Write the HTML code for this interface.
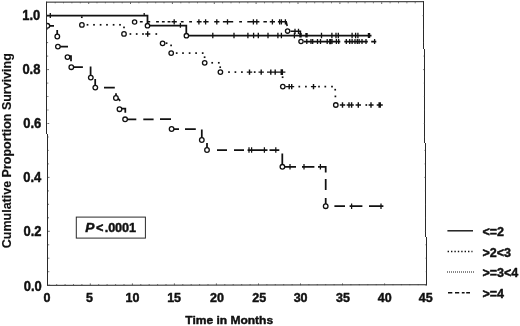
<!DOCTYPE html>
<html><head><meta charset="utf-8"><title>Cumulative Proportion Surviving</title>
<style>html,body{margin:0;padding:0;background:#fff}body{width:520px;height:326px;overflow:hidden}</style></head>
<body>
<svg width="520" height="326" viewBox="0 0 520 326" style="display:block">
<rect x="0" y="0" width="520" height="326" fill="#fff"/>
<clipPath id="pc"><polygon points="46.8,2.2 423.5,1.7 426.5,284.8 48.3,285.4"/></clipPath>
<path d="M46,2.15L424,1.7M47.3,285.35L427,284.75" fill="none" stroke="#222" stroke-width="1"/>
<path d="M46.5,1.7V134M47.5,134V285.8M423.5,1.2V49M424.5,49V143M425.5,143V237M426.5,237V285.2" fill="none" stroke="#2a2a2a" stroke-width="1"/>
<path d="M56.7,285.2v-1.1M55.2,2.2v1.1M65.1,285.2v-1.1M63.5,2.2v1.1M73.5,285.2v-1.1M71.9,2.2v1.1M81.9,285.2v-1.1M80.3,2.2v1.1M90.3,285.2v-1.8M88.7,2.2v1.8M98.7,285.2v-1.1M97.0,2.2v1.1M107.1,285.2v-1.1M105.4,2.2v1.1M115.6,285.2v-1.1M113.8,2.2v1.1M124.0,285.2v-1.1M122.2,2.2v1.1M132.4,285.2v-1.8M130.5,2.2v1.8M140.8,285.2v-1.1M138.9,2.2v1.1M149.2,285.2v-1.1M147.3,2.2v1.1M157.6,285.2v-1.1M155.7,2.2v1.1M166.0,285.2v-1.1M164.0,2.2v1.1M174.4,285.2v-1.8M172.4,2.2v1.8M182.8,285.2v-1.1M180.8,2.2v1.1M191.2,285.2v-1.1M189.1,2.2v1.1M199.6,285.2v-1.1M197.5,2.2v1.1M208.0,285.2v-1.1M205.9,2.2v1.1M216.4,285.2v-1.8M214.3,2.2v1.8M224.8,285.2v-1.1M222.6,2.2v1.1M233.2,285.2v-1.1M231.0,2.2v1.1M241.7,285.2v-1.1M239.4,2.2v1.1M250.1,285.2v-1.1M247.8,2.2v1.1M258.5,285.2v-1.8M256.1,2.2v1.8M266.9,285.2v-1.1M264.5,2.2v1.1M275.3,285.2v-1.1M272.9,2.2v1.1M283.7,285.2v-1.1M281.3,2.2v1.1M292.1,285.2v-1.1M289.6,2.2v1.1M300.5,285.2v-1.8M298.0,2.2v1.8M308.9,285.2v-1.1M306.4,2.2v1.1M317.3,285.2v-1.1M314.7,2.2v1.1M325.7,285.2v-1.1M323.1,2.2v1.1M334.1,285.2v-1.1M331.5,2.2v1.1M342.5,285.2v-1.8M339.9,2.2v1.8M350.9,285.2v-1.1M348.2,2.2v1.1M359.3,285.2v-1.1M356.6,2.2v1.1M367.8,285.2v-1.1M365.0,2.2v1.1M376.2,285.2v-1.1M373.4,2.2v1.1M384.6,285.2v-1.8M381.7,2.2v1.8M393.0,285.2v-1.1M390.1,2.2v1.1M401.4,285.2v-1.1M398.5,2.2v1.1M409.8,285.2v-1.1M406.9,2.2v1.1M418.2,285.2v-1.1M415.2,2.2v1.1M48.3,285.2h1.8M426.6,285.2h-1.1M48.2,271.7h1.1M426.5,271.7h-0.7M48.2,258.2h1.1M426.3,258.2h-0.7M48.1,244.8h1.1M426.2,244.8h-0.7M48.0,231.3h1.8M426.0,231.3h-1.1M47.9,217.8h1.1M425.9,217.8h-0.7M47.9,204.3h1.1M425.7,204.3h-0.7M47.8,190.9h1.1M425.6,190.9h-0.7M47.7,177.4h1.8M425.5,177.4h-1.1M47.7,163.9h1.1M425.3,163.9h-0.7M47.6,150.4h1.1M425.2,150.4h-0.7M47.5,137.0h1.1M425.0,137.0h-0.7M47.4,123.5h1.8M424.9,123.5h-1.1M47.4,110.0h1.1M424.7,110.0h-0.7M47.3,96.5h1.1M424.6,96.5h-0.7M47.2,83.1h1.1M424.5,83.1h-0.7M47.2,69.6h1.8M424.3,69.6h-1.1M47.1,56.1h1.1M424.2,56.1h-0.7M47.0,42.6h1.1M424.0,42.6h-0.7M46.9,29.2h1.1M423.9,29.2h-0.7M46.9,15.7h1.8M423.7,15.7h-1.1" stroke="#444" stroke-width="0.8" fill="none"/>
<g fill="#111"><rect x="80.95" y="16.35" width="1.7" height="1.7"/><rect x="86.65" y="23.95" width="1.7" height="1.7"/><rect x="93.15" y="23.95" width="1.7" height="1.7"/><rect x="99.75" y="23.95" width="1.7" height="1.7"/><rect x="106.15" y="23.95" width="1.7" height="1.7"/><rect x="112.75" y="23.95" width="1.7" height="1.7"/><rect x="119.15" y="23.95" width="1.7" height="1.7"/><rect x="123.15" y="26.55" width="1.7" height="1.7"/><rect x="129.55" y="33.15" width="1.7" height="1.7"/><rect x="135.85" y="33.15" width="1.7" height="1.7"/><rect x="142.15" y="33.15" width="1.7" height="1.7"/><rect x="155.45" y="33.15" width="1.7" height="1.7"/><rect x="165.75" y="42.35" width="1.7" height="1.7"/><rect x="170.25" y="44.55" width="1.7" height="1.7"/><rect x="175.85" y="52.25" width="1.7" height="1.7"/><rect x="182.15" y="52.25" width="1.7" height="1.7"/><rect x="188.75" y="52.25" width="1.7" height="1.7"/><rect x="195.25" y="52.25" width="1.7" height="1.7"/><rect x="201.85" y="52.25" width="1.7" height="1.7"/><rect x="203.75" y="56.35" width="1.7" height="1.7"/><rect x="211.35" y="61.95" width="1.7" height="1.7"/><rect x="217.95" y="61.95" width="1.7" height="1.7"/><rect x="219.35" y="66.35" width="1.7" height="1.7"/><rect x="228.15" y="71.25" width="1.7" height="1.7"/><rect x="234.55" y="71.25" width="1.7" height="1.7"/><rect x="241.05" y="71.25" width="1.7" height="1.7"/><rect x="253.85" y="71.25" width="1.7" height="1.7"/><rect x="281.75" y="76.35" width="1.7" height="1.7"/><rect x="298.45" y="85.75" width="1.7" height="1.7"/><rect x="305.05" y="85.75" width="1.7" height="1.7"/><rect x="318.15" y="85.75" width="1.7" height="1.7"/><rect x="324.45" y="85.75" width="1.7" height="1.7"/><rect x="331.15" y="85.75" width="1.7" height="1.7"/><rect x="334.35" y="88.85" width="1.7" height="1.7"/><rect x="334.55" y="95.55" width="1.7" height="1.7"/><rect x="365.45" y="104.15" width="1.7" height="1.7"/></g>
<path d="M147.7,31.3V36.7M145.2,34H150.3M249.5,69.5V74.69999999999999M261.2,69.5V74.69999999999999M270.8,69.5V74.69999999999999M275.2,69.5V74.69999999999999M246.8,72.1H252.2M258.5,72.1H263.9M267,72.1H285.4M289.2,83.89999999999999V89.3M291.7,83.89999999999999V89.3M285.5,86.6H294.2M313.5,83.89999999999999V89.3M310.9,86.6H316.1M342.5,102.3V107.7M349,102.3V107.7M351.6,102.3V107.7M358.3,102.3V107.7M371,102.3V107.7M339.8,105H345.2M346.7,105H353.8M355.6,105H361M368.6,105H373.6M376.7,105H382.8" stroke="#111" stroke-width="1.4" fill="none"/>
<path d="M281.8,69.19999999999999V75.0M379.7,102.2V107.8" stroke="#111" stroke-width="2.5" fill="none"/>
<circle cx="81.9" cy="24.9" r="2.25" fill="#fff" stroke="#111" stroke-width="1.3"/>
<circle cx="124" cy="33.9" r="2.25" fill="#fff" stroke="#111" stroke-width="1.3"/>
<circle cx="162.6" cy="43.3" r="2.25" fill="#fff" stroke="#111" stroke-width="1.3"/>
<circle cx="171.2" cy="53.1" r="2.25" fill="#fff" stroke="#111" stroke-width="1.3"/>
<circle cx="204.7" cy="62.8" r="2.25" fill="#fff" stroke="#111" stroke-width="1.3"/>
<circle cx="220.4" cy="72.1" r="2.25" fill="#fff" stroke="#111" stroke-width="1.3"/>
<circle cx="282.8" cy="86.6" r="2.25" fill="#fff" stroke="#111" stroke-width="1.3"/>
<circle cx="335.8" cy="105" r="2.25" fill="#fff" stroke="#111" stroke-width="1.3"/>
<path d="M139.9,21.8h2.8M147.4,21.8h2.8M156.1,21.8h2.8M161.9,21.8h2.8M167.6,21.8h2.8M180.8,21.8h2.8M189.2,21.8h2.8M239.2,21.8h2.8M263.4,21.8H266.9M171.6,21.8H176.8M196.8,21.8H201.6M203.3,21.8H208.6M214.2,21.8H219.4M222.9,21.8H233.2M247.3,21.8H259.4M269.8,21.8H275M277.9,21.8H286.2L287.2,26M290.5,31.3H300.4V35M304,41.6H340.3M344.3,41.6H367.8M371.2,41.6H376.3" stroke="#111" stroke-width="1.6" fill="none"/>
<path d="M174.2,19.150000000000002V24.45M198.9,19.150000000000002V24.45M205.6,19.150000000000002V24.45M216.8,19.150000000000002V24.45M227.5,19.150000000000002V24.45M253.4,19.150000000000002V24.45M256.8,19.150000000000002V24.45M272.4,19.150000000000002V24.45M279.6,19.150000000000002V24.45M281.4,19.150000000000002V24.45M285.4,19.150000000000002V24.45M295,28.7V33.9M298.5,28.7V33.9M306.8,39.1V44.1M311,39.1V44.1M312.7,39.1V44.1M317.5,39.1V44.1M320.5,39.1V44.1M327.2,39.1V44.1M332,39.1V44.1M336.4,39.1V44.1M338.7,39.1V44.1M346.3,39.1V44.1M349.7,39.1V44.1M352.1,39.1V44.1M355,39.1V44.1M357.3,39.1V44.1M359.1,39.1V44.1M362,39.1V44.1M366,39.1V44.1M374.6,39.1V44.1" stroke="#111" stroke-width="1.3" fill="none"/>
<path d="M330.3,39.0V44.2" stroke="#111" stroke-width="2.4" fill="none"/>
<circle cx="134.6" cy="22" r="2.15" fill="#fff" stroke="#111" stroke-width="1.3"/>
<circle cx="287.6" cy="31.1" r="2.15" fill="#fff" stroke="#111" stroke-width="1.3"/>
<circle cx="301" cy="41.5" r="2.15" fill="#fff" stroke="#111" stroke-width="1.3"/>
<path d="M47,15.5H147.5V25.5H186.3V35.5H371.5" stroke="#111" stroke-width="1.75" fill="none" stroke-linejoin="miter"/>
<path d="M50.3,12.9V18.1M144.2,13V16M180.4,22.900000000000002V27.7M212.8,32.7V38.3M234,32.7V38.3M247.9,32.7V38.3M253.6,32.7V38.3M258.3,32.7V38.3M268,32.7V38.3M277.9,32.7V38.3M281.4,32.7V38.3M294.4,32.7V38.3M321.5,32.7V38.3M331.9,32.7V38.3M336,32.7V38.3M338.3,32.7V38.3M352.1,32.7V38.3M355.6,32.7V38.3M357.9,32.7V38.3" stroke="#111" stroke-width="1.3" fill="none"/>
<path d="M300.5,33.0V37.599999999999994M306.5,33.0V37.599999999999994M369,33.0V38.0" stroke="#111" stroke-width="2.4" fill="none"/>
<circle cx="147.5" cy="25.7" r="2.2" fill="#fff" stroke="#111" stroke-width="1.3"/>
<circle cx="186.4" cy="35.7" r="2.2" fill="#fff" stroke="#111" stroke-width="1.3"/>
<path d="M47,25.8H54M57.2,30V34.5M60,46.6H68M69.5,56.2H71V61.2M73,67.1H82.9M90.6,66.6V75.5M95.2,79V85.5M104,87.5H114.8M116,93.2V95.8M118,98.4L120.2,100.8M121.8,108.6H125.3V112.8M127,119.3H136.3M143.3,119.3H153.6M160,119.2H171M174,129H179M185,129H195.8M201.8,129.6V138M207,143V148M217,150H227M234,150H244M247.6,150H267.5M269.5,150H279.3M282.3,153.6V164.5M285,166.8H296M302,166.8H314.4M318,166.8H325.7V172.5M325.7,179V190M325.7,198V204M334.4,206.2H345M349.6,206.2H362.4M369,206.2H383.4" stroke="#111" stroke-width="1.75" fill="none"/>
<path d="M249,147.2V152.8M251.6,147.2V152.8M264.4,147.2V152.8M275.8,147.2V152.8M290,164.0V169.60000000000002M304,164.0V169.60000000000002M320.4,164.0V169.60000000000002M351.6,203.39999999999998V209.0M381,203.39999999999998V209.0" stroke="#111" stroke-width="1.25" fill="none"/>
<circle cx="57.3" cy="36.5" r="2.3" fill="#fff" stroke="#111" stroke-width="1.3"/>
<circle cx="57.9" cy="46.6" r="2.3" fill="#fff" stroke="#111" stroke-width="1.3"/>
<circle cx="67.5" cy="57.1" r="2.3" fill="#fff" stroke="#111" stroke-width="1.3"/>
<circle cx="71.3" cy="67.2" r="2.3" fill="#fff" stroke="#111" stroke-width="1.3"/>
<circle cx="90.8" cy="77.6" r="2.3" fill="#fff" stroke="#111" stroke-width="1.3"/>
<circle cx="95.3" cy="87.6" r="2.3" fill="#fff" stroke="#111" stroke-width="1.3"/>
<circle cx="115.9" cy="98" r="2.3" fill="#fff" stroke="#111" stroke-width="1.3"/>
<circle cx="119.5" cy="109.2" r="2.3" fill="#fff" stroke="#111" stroke-width="1.3"/>
<circle cx="125.1" cy="119.3" r="2.3" fill="#fff" stroke="#111" stroke-width="1.3"/>
<circle cx="171.6" cy="129" r="2.3" fill="#fff" stroke="#111" stroke-width="1.3"/>
<circle cx="201.8" cy="140" r="2.3" fill="#fff" stroke="#111" stroke-width="1.3"/>
<circle cx="207" cy="150" r="2.3" fill="#fff" stroke="#111" stroke-width="1.3"/>
<circle cx="282.4" cy="166.8" r="2.3" fill="#fff" stroke="#111" stroke-width="1.3"/>
<circle cx="325.7" cy="206.2" r="2.3" fill="#fff" stroke="#111" stroke-width="1.3"/>
<g clip-path="url(#pc)"><circle cx="47.4" cy="25.8" r="2.3" fill="#fff" stroke="#111" stroke-width="1.3"/></g>
<text x="23.8" y="290.5" font-size="14" textLength="18" lengthAdjust="spacingAndGlyphs" font-family="Liberation Sans, Arial, Helvetica, sans-serif" font-weight="bold" fill="#111" stroke="#111" stroke-width="0.45" stroke-linejoin="round">0.0</text>
<text x="23.5" y="235.8" font-size="14" textLength="18" lengthAdjust="spacingAndGlyphs" font-family="Liberation Sans, Arial, Helvetica, sans-serif" font-weight="bold" fill="#111" stroke="#111" stroke-width="0.45" stroke-linejoin="round">0.2</text>
<text x="23.200000000000003" y="182.1" font-size="14" textLength="18" lengthAdjust="spacingAndGlyphs" font-family="Liberation Sans, Arial, Helvetica, sans-serif" font-weight="bold" fill="#111" stroke="#111" stroke-width="0.45" stroke-linejoin="round">0.4</text>
<text x="23.200000000000003" y="128.3" font-size="14" textLength="18" lengthAdjust="spacingAndGlyphs" font-family="Liberation Sans, Arial, Helvetica, sans-serif" font-weight="bold" fill="#111" stroke="#111" stroke-width="0.45" stroke-linejoin="round">0.6</text>
<text x="22.400000000000002" y="74.1" font-size="14" textLength="18" lengthAdjust="spacingAndGlyphs" font-family="Liberation Sans, Arial, Helvetica, sans-serif" font-weight="bold" fill="#111" stroke="#111" stroke-width="0.45" stroke-linejoin="round">0.8</text>
<text x="22.3" y="20.3" font-size="14" textLength="18" lengthAdjust="spacingAndGlyphs" font-family="Liberation Sans, Arial, Helvetica, sans-serif" font-weight="bold" fill="#111" stroke="#111" stroke-width="0.45" stroke-linejoin="round">1.0</text>
<text x="47.1" y="302.1" text-anchor="middle" font-size="12.5" font-family="Liberation Sans, Arial, Helvetica, sans-serif" font-weight="bold" fill="#111" stroke="#111" stroke-width="0.45" stroke-linejoin="round">0</text>
<text x="89.6" y="302.1" text-anchor="middle" font-size="12.5" font-family="Liberation Sans, Arial, Helvetica, sans-serif" font-weight="bold" fill="#111" stroke="#111" stroke-width="0.45" stroke-linejoin="round">5</text>
<text x="132.4" y="302.1" text-anchor="middle" font-size="12.5" font-family="Liberation Sans, Arial, Helvetica, sans-serif" font-weight="bold" fill="#111" stroke="#111" stroke-width="0.45" stroke-linejoin="round">10</text>
<text x="174.1" y="302.1" text-anchor="middle" font-size="12.5" font-family="Liberation Sans, Arial, Helvetica, sans-serif" font-weight="bold" fill="#111" stroke="#111" stroke-width="0.45" stroke-linejoin="round">15</text>
<text x="217.0" y="302.1" text-anchor="middle" font-size="12.5" font-family="Liberation Sans, Arial, Helvetica, sans-serif" font-weight="bold" fill="#111" stroke="#111" stroke-width="0.45" stroke-linejoin="round">20</text>
<text x="259.2" y="302.1" text-anchor="middle" font-size="12.5" font-family="Liberation Sans, Arial, Helvetica, sans-serif" font-weight="bold" fill="#111" stroke="#111" stroke-width="0.45" stroke-linejoin="round">25</text>
<text x="300.6" y="302.1" text-anchor="middle" font-size="12.5" font-family="Liberation Sans, Arial, Helvetica, sans-serif" font-weight="bold" fill="#111" stroke="#111" stroke-width="0.45" stroke-linejoin="round">30</text>
<text x="343.0" y="302.1" text-anchor="middle" font-size="12.5" font-family="Liberation Sans, Arial, Helvetica, sans-serif" font-weight="bold" fill="#111" stroke="#111" stroke-width="0.45" stroke-linejoin="round">35</text>
<text x="384.8" y="302.1" text-anchor="middle" font-size="12.5" font-family="Liberation Sans, Arial, Helvetica, sans-serif" font-weight="bold" fill="#111" stroke="#111" stroke-width="0.45" stroke-linejoin="round">40</text>
<text x="425.8" y="302.1" text-anchor="middle" font-size="12.5" font-family="Liberation Sans, Arial, Helvetica, sans-serif" font-weight="bold" fill="#111" stroke="#111" stroke-width="0.45" stroke-linejoin="round">45</text>
<text x="185.3" y="323.7" font-size="11.5" textLength="87.8" lengthAdjust="spacingAndGlyphs" font-family="Liberation Sans, Arial, Helvetica, sans-serif" font-weight="bold" fill="#111" stroke="#111" stroke-width="0.45" stroke-linejoin="round">Time in Months</text>
<text transform="translate(11.1,248.2) rotate(-90)" font-size="13.4" textLength="195" lengthAdjust="spacingAndGlyphs" font-family="Liberation Sans, Arial, Helvetica, sans-serif" font-weight="bold" fill="#111" stroke="#111" stroke-width="0.15" stroke-linejoin="round">Cumulative Proportion Surviving</text>
<rect x="76.3" y="217.1" width="69.1" height="21" fill="#fff" stroke="#2a2a2a" stroke-width="1"/>
<text x="85.3 96.1 104.7 108.2 115.1 122 128.9" y="231.9" font-size="12.7" font-family="Liberation Sans, Arial, Helvetica, sans-serif" font-weight="bold" fill="#111" stroke="#111" stroke-width="0.45" stroke-linejoin="round"><tspan font-style="italic" font-size="13.7">P</tspan>&lt;.0001</text>
<path d="M447.4,230.8H473" stroke="#111" stroke-width="1.4"/>
<path d="M447.6,251.5H472.5" stroke="#111" stroke-width="1.3" stroke-dasharray="1.4,2"/>
<path d="M447,272H474" stroke="#111" stroke-width="1.2" stroke-dasharray="1,1"/>
<path d="M448,292.7H452.3M455,292.7H459.2M461.8,292.7H464.6M466.2,292.7H470" stroke="#111" stroke-width="1.5"/>
<text x="482.4" y="236" font-size="12.5" font-family="Liberation Sans, Arial, Helvetica, sans-serif" font-weight="bold" fill="#111" stroke="#111" stroke-width="0.45" stroke-linejoin="round">&lt;=2</text>
<text x="482.4" y="256.6" font-size="12.5" font-family="Liberation Sans, Arial, Helvetica, sans-serif" font-weight="bold" fill="#111" stroke="#111" stroke-width="0.45" stroke-linejoin="round">&gt;2&lt;3</text>
<text x="482.4" y="277.3" font-size="12.5" font-family="Liberation Sans, Arial, Helvetica, sans-serif" font-weight="bold" fill="#111" stroke="#111" stroke-width="0.45" stroke-linejoin="round">&gt;=3&lt;4</text>
<text x="482.4" y="298" font-size="12.5" font-family="Liberation Sans, Arial, Helvetica, sans-serif" font-weight="bold" fill="#111" stroke="#111" stroke-width="0.45" stroke-linejoin="round">&gt;=4</text>
</svg>
</body></html>
